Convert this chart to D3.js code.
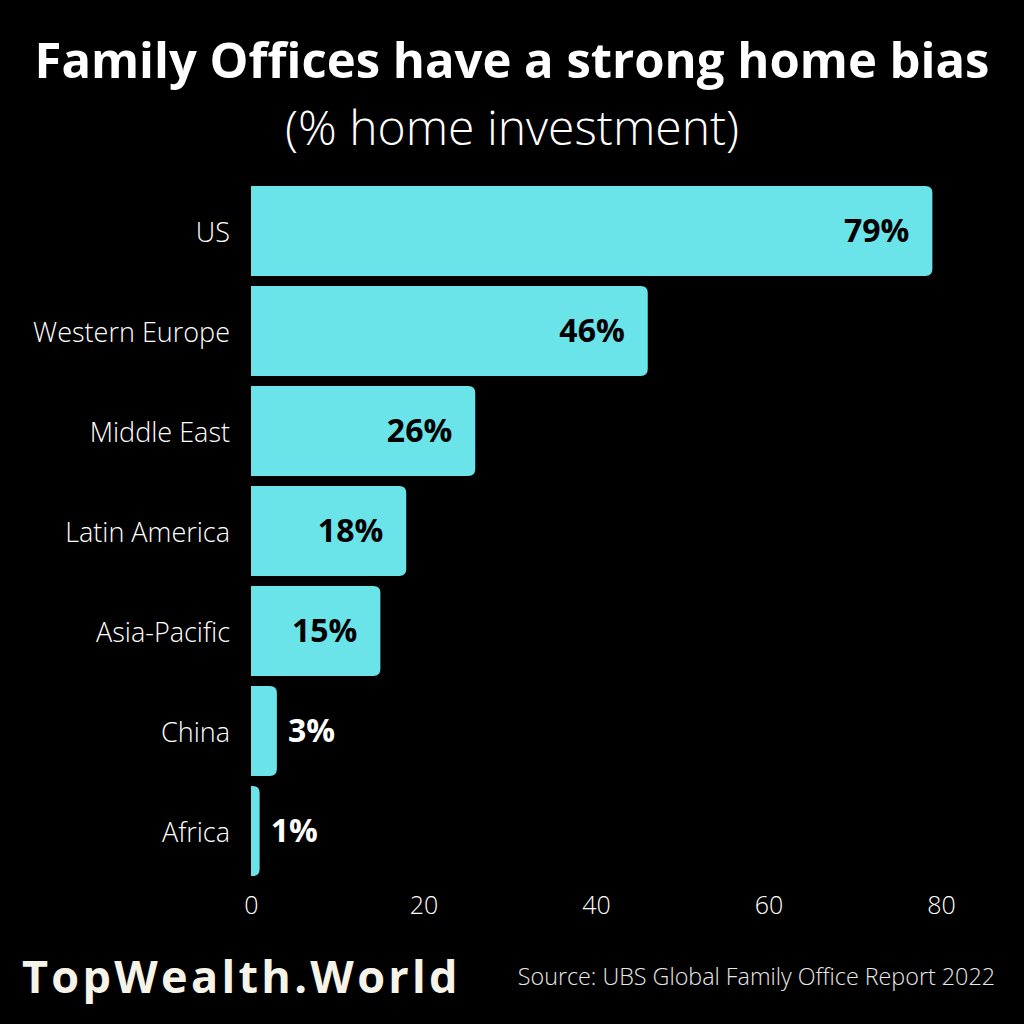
<!DOCTYPE html>
<html>
<head>
<meta charset="utf-8">
<script src="https://cdn.jsdelivr.net/npm/d3@7"></script>
<style>
  body { margin: 0; background: #000; }
  svg { display: block; font-family: "Open Sans", sans-serif; }
</style>
</head>
<body>
<svg id="chart"></svg>
<script>
const regions = ["US", "Western Europe", "Middle East", "Latin America", "Asia-Pacific", "China", "Africa"];
const homeShare = [79, 46, 26, 18, 15, 3, 1];
const xTicks = [0, 20, 40, 60, 80];

const width = 1024;
const height = 1024;
const barColor = "#6ae4e8";

const svg = d3.select("#chart")
    .attr("width", width)
    .attr("height", height);

svg.append("rect")
    .attr("width", width)
    .attr("height", height)
    .attr("fill", "#000");

// titles
svg.append("text")
    .attr("x", 512)
    .attr("y", 78)
    .attr("text-anchor", "middle")
    .attr("fill", "#fff")
    .attr("font-size", 49)
    .attr("font-weight", 700)
    .text("Family Offices have a strong home bias");

svg.append("text")
    .attr("x", 512)
    .attr("y", 145)
    .attr("text-anchor", "middle")
    .attr("fill", "#fff")
    .attr("font-size", 48)
    .attr("font-weight", 300)
    .text("(% home investment)");

// scales
const x = d3.scaleLinear()
    .domain([0, 80])
    .range([251, 941]);

const y = d3.scaleBand()
    .domain(regions)
    .range([181, 881])
    .paddingInner(0.1)
    .paddingOuter(0.05);

const data = regions.map((r, i) => ({ region: r, value: homeShare[i] }));

// bars with rounded right end
const r = 7;
svg.selectAll("path.bar")
    .data(data)
    .enter()
    .append("path")
    .attr("class", "bar")
    .attr("fill", barColor)
    .attr("d", d => {
        const x0 = x(0), x1 = x(d.value);
        const y0 = y(d.region), y1 = y0 + y.bandwidth();
        const rr = Math.min(r, (x1 - x0));
        return `M${x0},${y0} H${x1 - rr} Q${x1},${y0} ${x1},${y0 + rr} V${y1 - rr} Q${x1},${y1} ${x1 - rr},${y1} H${x0} Z`;
    });

// value labels
svg.selectAll("text.value")
    .data(data)
    .enter()
    .append("text")
    .attr("class", "value")
    .attr("x", d => d.value > 10 ? x(d.value) - 23 : x(d.value) + 11)
    .attr("y", d => y(d.region) + y.bandwidth() / 2 + 11)
    .attr("text-anchor", d => d.value > 10 ? "end" : "start")
    .attr("fill", d => d.value > 10 ? "#000" : "#fff")
    .attr("font-size", 32)
    .attr("font-weight", 700)
    .text(d => d.value + "%");

// y axis labels
const yAxis = d3.axisLeft(y).tickSize(0).tickPadding(0);
const gy = svg.append("g")
    .attr("transform", "translate(230,2)")
    .call(yAxis);
gy.select(".domain").remove();
gy.selectAll("text")
    .attr("fill", "#fff")
    .attr("font-size", 27)
    .attr("font-weight", 300)
    .attr("font-family", "Open Sans, sans-serif");

// x axis
const xAxis = d3.axisBottom(x).tickValues(xTicks).tickSize(0).tickPadding(0);
const gx = svg.append("g")
    .attr("transform", "translate(0,896)")
    .call(xAxis);
gx.select(".domain").remove();
gx.selectAll("text")
    .attr("fill", "#fff")
    .attr("font-size", 25)
    .attr("font-weight", 300)
    .attr("font-family", "Open Sans, sans-serif");

// footer
svg.append("text")
    .attr("x", 22)
    .attr("y", 993)
    .attr("fill", "#f6f4e8")
    .attr("font-size", 45)
    .attr("font-weight", 700)
    .attr("letter-spacing", 3.3)
    .text("TopWealth.World");

svg.append("text")
    .attr("x", 995)
    .attr("y", 985)
    .attr("text-anchor", "end")
    .attr("fill", "#e8e8e8")
    .attr("font-size", 23.3)
    .attr("font-weight", 300)
    .text("Source: UBS Global Family Office Report 2022");
</script>
</body>
</html>
